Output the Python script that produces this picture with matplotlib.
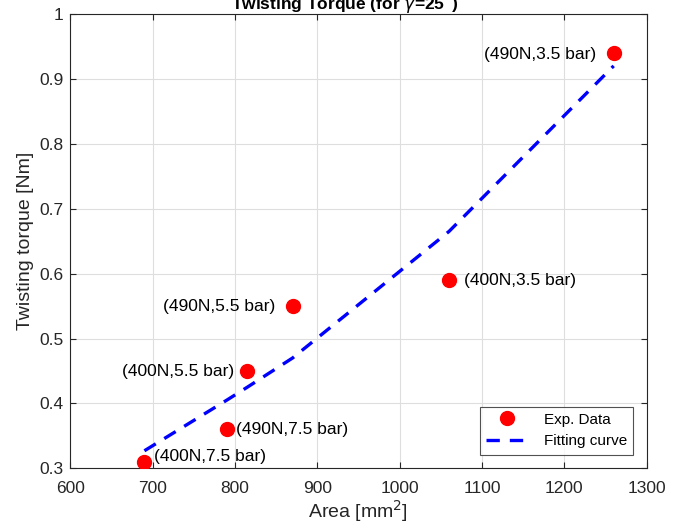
import matplotlib
matplotlib.use("Agg")
import matplotlib.pyplot as plt

plt.rcParams['font.family'] = ['Liberation Sans', 'DejaVu Sans']

area = [690, 790, 815, 870, 1060, 1260]
torque = [0.31, 0.36, 0.45, 0.55, 0.59, 0.94]
labels = ['(400N,7.5 bar)', '(490N,7.5 bar)', '(400N,5.5 bar)',
          '(490N,5.5 bar)', '(400N,3.5 bar)', '(490N,3.5 bar)']
label_side = ['right', 'right', 'left', 'left', 'right', 'left']
label_offsets = [(7, 3.5), (7, 0), (-9.5, -0.5), (-12.5, -0.5), (11, -0.5), (-12.5, -1)]
fit_x = [690, 790, 815, 870, 1060, 1260]
fit_y = [0.327, 0.405, 0.425, 0.47, 0.665, 0.92]
xticks = [600, 700, 800, 900, 1000, 1100, 1200, 1300]
yticks = [0.3, 0.4, 0.5, 0.6, 0.7, 0.8, 0.9, 1.0]
ytick_labels = ['0.3', '0.4', '0.5', '0.6', '0.7', '0.8', '0.9', '1']

fig = plt.figure(figsize=(6.8, 5.3), dpi=100)
ax = fig.add_axes([0.1034, 0.1164, 0.8475, 0.8572])

axcol = (0.15, 0.15, 0.15)
ax.grid(True, color=(0.87, 0.87, 0.87), linewidth=0.8)
ax.set_axisbelow(True)

ax.plot(area, torque, 'o', color='red', markersize=10, label='Exp. Data', zorder=3)
ax.plot(fit_x, fit_y, '--', color='blue', linewidth=2.4, dashes=(4, 3), label='Fitting curve', zorder=2)

for x, y, t, s, off in zip(area, torque, labels, label_side, label_offsets):
    ax.annotate(t, (x, y), xytext=off, textcoords='offset points',
                ha='left' if s == 'right' else 'right', va='center',
                fontsize=12.5, color='black')

ax.set_xlim(600, 1300)
ax.set_ylim(0.3, 1.0)
ax.set_xticks(xticks)
ax.set_yticks(yticks)
ax.set_yticklabels(ytick_labels)
ax.tick_params(direction='in', length=4, colors=axcol, labelsize=12.5,
               top=True, right=True, labelcolor=axcol)
ax.tick_params(axis='x', pad=9)
ax.tick_params(axis='y', pad=5)
for sp in ax.spines.values():
    sp.set_color(axcol)
    sp.set_linewidth(0.8)

ax.set_xlabel('Area [mm$^2$]', fontsize=14, color=axcol, labelpad=2)
ax.set_ylabel('Twisting torque [Nm]', fontsize=14, color=axcol, labelpad=4)
ax.set_title(r'Twisting Torque (for $\gamma$=25$^{\circ}$)', fontsize=12.5,
             fontweight='bold', pad=3, x=0.477)

leg = ax.legend(loc='lower right', fontsize=11, frameon=True, fancybox=False,
                edgecolor=axcol, borderaxespad=0.9, handlelength=2.75,
                handletextpad=1.0, borderpad=0.4)
leg.get_frame().set_linewidth(0.8)

fig.savefig('out.png', dpi=100)
